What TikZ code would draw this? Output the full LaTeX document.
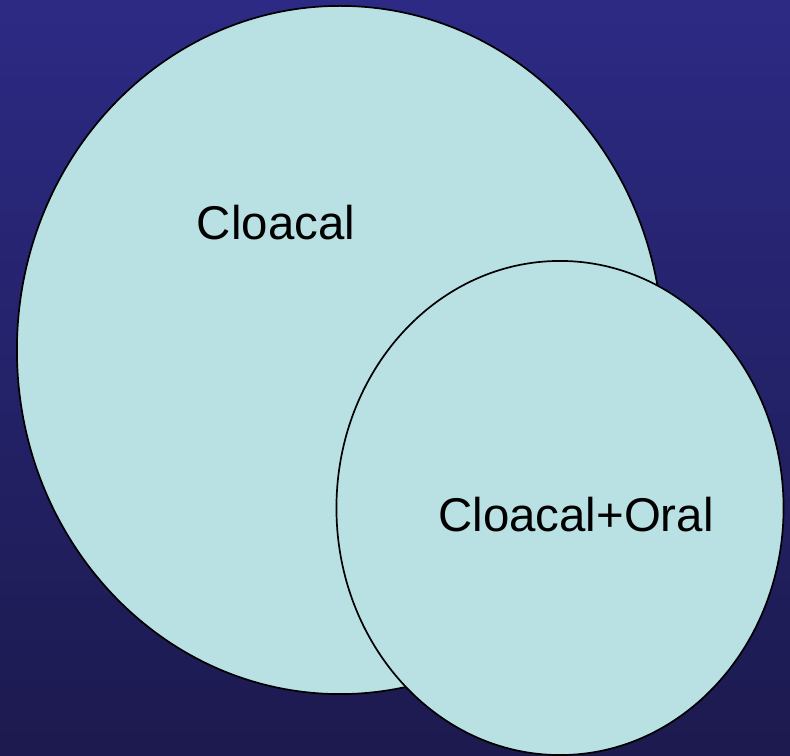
\documentclass[tikz,border=0pt]{standalone}
\usepackage{fontspec}
\setmainfont{Liberation Sans}
\usepackage{tikz}
\usetikzlibrary{shapes.geometric}
\definecolor{bgtop}{HTML}{2C2A84}
\definecolor{bgmid}{HTML}{333395}
\definecolor{bgbottom}{HTML}{1C1A4E}
\definecolor{paleteal}{HTML}{B9E0E3}

\begin{document}
\begin{tikzpicture}[
  x=0.025cm, y=0.025cm,
  font=\fontsize{33.7}{40}\selectfont,
  blob/.style={draw=black,line width=1.2pt,fill=paleteal,ellipse,inner sep=0pt},
  lbl/.style={text=black,inner sep=0pt}
]
\fill[top color=bgtop,middle color=bgmid,bottom color=bgbottom] (0,0) rectangle (790,756);
\useasboundingbox (0,0) rectangle (790,756);
\node[blob,minimum width=16.15cm,minimum height=17.2cm] (cloacal) at (340,406) {};
\node[blob,minimum width=11.175cm,minimum height=12.35cm] (both) at (560,248) {};
\node[lbl] (cloacaltext) at (276,533) {Cloacal};
\node[lbl] (bothtext) at (576,241) {Cloacal+Oral};
\end{tikzpicture}
\end{document}
